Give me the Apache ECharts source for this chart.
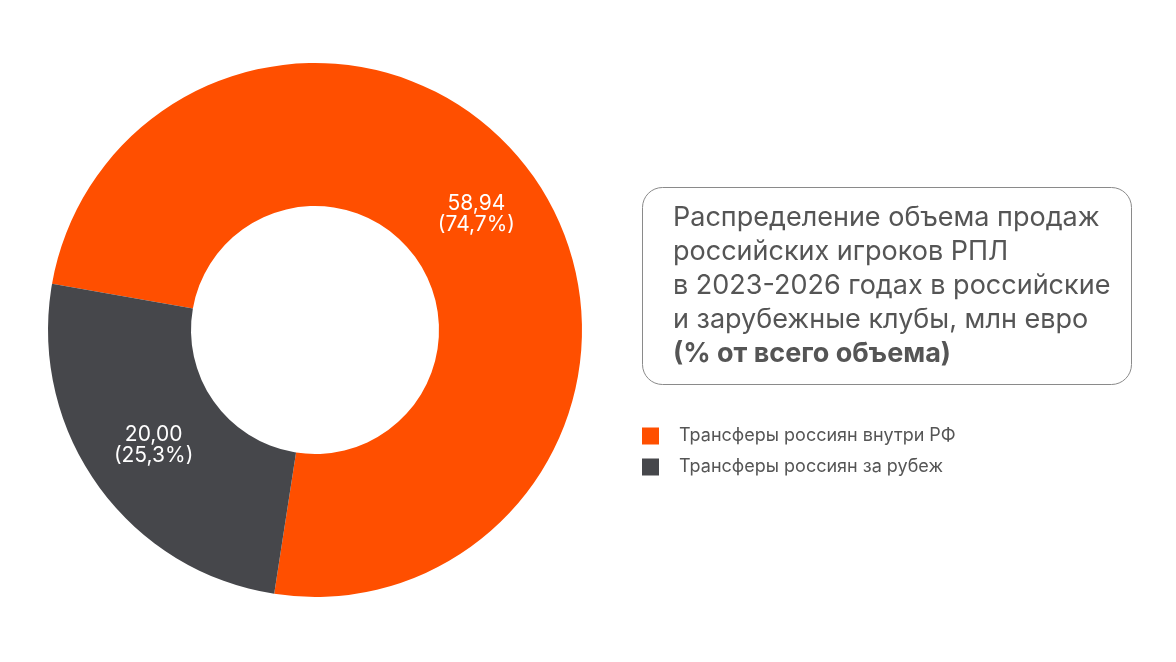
<!DOCTYPE html>
<html>
<head>
<meta charset="utf-8">
<script src="https://cdn.jsdelivr.net/npm/echarts@6/dist/echarts.min.js"></script>
<style>
  html, body { margin:0; padding:0; background:#fff; }
  #chart { width:1176px; height:662px; }
</style>
</head>
<body>
<div id="chart"></div>
<script>
var categories = ['Трансферы россиян внутри РФ', 'Трансферы россиян за рубеж'];
var values = [58.94, 20.00];
var colors = ['#FF4F00', '#46474B'];
var titleLines = [
  'Распределение объема продаж',
  'российских игроков РПЛ',
  'в 2023-2026 годах в российские',
  'и зарубежные клубы, млн евро'
];
var titleBold = '(% от всего объема)';

var total = values.reduce(function(a, b){ return a + b; }, 0);
var fmt = function(v, d){ return v.toFixed(d).replace('.', ','); };

var pieData = categories.map(function(name, i){
  return { name: name, value: values[i], itemStyle: { color: colors[i] } };
});

var chart = echarts.init(document.getElementById('chart'));
chart.setOption({
  backgroundColor: '#fff',
  animation: false,
  textStyle: { fontFamily: 'Inter' },
  title: {
    left: 673,
    top: 201,
    padding: 0,
    text: titleLines.join('\n') + '\n{b|' + titleBold + '}',
    textStyle: {
      fontFamily: 'Inter',
      fontSize: 27,
      fontWeight: 'normal',
      color: '#555555',
      lineHeight: 34,
      rich: {
        b: { fontFamily: 'Inter', fontSize: 27, fontWeight: 'bold', color: '#555555', lineHeight: 34 }
      }
    }
  },
  graphic: [{
    type: 'rect',
    z: -1,
    shape: { x: 642.5, y: 187.5, width: 489, height: 197, r: 20 },
    style: { fill: '#fff', stroke: '#8a8a8a', lineWidth: 1 }
  }],
  legend: {
    orient: 'vertical',
    left: 642,
    top: 427,
    padding: 0,
    icon: 'rect',
    itemWidth: 17,
    itemHeight: 17,
    itemGap: 13,
    selectedMode: false,
    data: categories,
    textStyle: {
      fontFamily: 'Inter',
      fontSize: 18,
      color: '#555555',
      padding: [0, 0, 0, 15]
    }
  },
  series: [{
    type: 'pie',
    center: [315, 330],
    radius: [124, 267],
    startAngle: 170,
    clockwise: true,
    avoidLabelOverlap: false,
    label: {
      show: true,
      position: 'inside',
      color: '#ffffff',
      fontFamily: 'Inter',
      fontSize: 21,
      lineHeight: 21,
      formatter: function(p){
        return fmt(p.value, 2) + '\n(' + fmt(p.value / total * 100, 1) + '%)';
      }
    },
    labelLine: { show: false },
    itemStyle: { borderWidth: 0 },
    emphasis: { disabled: true },
    data: pieData
  }]
});
</script>
</body>
</html>
